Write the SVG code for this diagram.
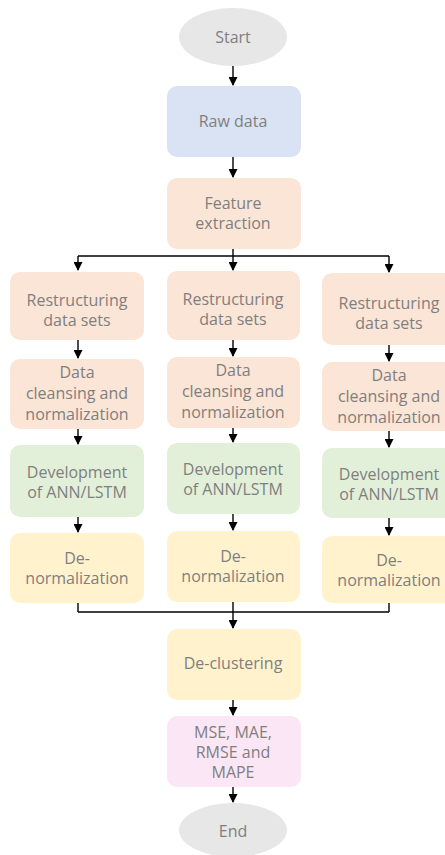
<svg xmlns="http://www.w3.org/2000/svg" width="445" height="855" viewBox="0 0 445 855">
  <defs>
    <marker id="arrow" markerWidth="9" markerHeight="9" refX="8" refY="4.5" orient="auto" markerUnits="userSpaceOnUse">
      <path d="M0,0 L9,4.5 L0,9 Z" fill="#000"/>
    </marker>
    <style>
      .box { stroke: none; }
      .term { fill: #e7e7e7; }
      .blue { fill: #dae3f3; }
      .peach { fill: #fbe5d6; }
      .green { fill: #e2f0d9; }
      .yellow { fill: #fff2cc; }
      .pink { fill: #fbe6f5; }
      text { font-family: "Open Sans", "Noto Sans", sans-serif; font-size: 16px; fill: #7f7f7f; text-anchor: middle; dominant-baseline: central; }
      .line { stroke: #000; stroke-width: 1.4; fill: none; }
      .arr { stroke: #000; stroke-width: 1.4; fill: none; marker-end: url(#arrow); }
    </style>
  </defs>

  <rect width="445" height="855" fill="#fff"/>

  <!-- main spine -->
  <g id="start">
    <ellipse class="box term" cx="233" cy="37" rx="54" ry="29"/>
    <text x="233" y="37">Start</text>
  </g>
  <g id="raw-data">
    <rect class="box blue" x="167" y="86" width="134" height="71" rx="10"/>
    <text x="233" y="121">Raw data</text>
  </g>
  <g id="feature-extraction">
    <rect class="box peach" x="167" y="178" width="134" height="71" rx="10"/>
    <text x="233" y="203">Feature</text>
    <text x="233" y="223">extraction</text>
  </g>

  <!-- left column -->
  <g id="restructure-1">
    <rect class="box peach" x="10" y="272" width="134" height="68" rx="10"/>
    <text x="77" y="300">Restructuring</text>
    <text x="77" y="320">data sets</text>
  </g>
  <g id="cleansing-1">
    <rect class="box peach" x="10" y="359" width="134" height="70" rx="10"/>
    <text x="77" y="372">Data</text>
    <text x="77" y="393">cleansing and</text>
    <text x="77" y="414">normalization</text>
  </g>
  <g id="model-1">
    <rect class="box green" x="10" y="445" width="134" height="72" rx="10"/>
    <text x="77" y="472">Development</text>
    <text x="77" y="492">of ANN/LSTM</text>
  </g>
  <g id="denorm-1">
    <rect class="box yellow" x="10" y="533" width="134" height="70" rx="10"/>
    <text x="77" y="558">De-</text>
    <text x="77" y="578">normalization</text>
  </g>

  <!-- middle column -->
  <g id="restructure-2">
    <rect class="box peach" x="167" y="271" width="133" height="69" rx="10"/>
    <text x="233" y="299">Restructuring</text>
    <text x="233" y="319">data sets</text>
  </g>
  <g id="cleansing-2">
    <rect class="box peach" x="167" y="357" width="133" height="71" rx="10"/>
    <text x="233" y="370">Data</text>
    <text x="233" y="391">cleansing and</text>
    <text x="233" y="412">normalization</text>
  </g>
  <g id="model-2">
    <rect class="box green" x="167" y="443" width="133" height="71" rx="10"/>
    <text x="233" y="469">Development</text>
    <text x="233" y="489">of ANN/LSTM</text>
  </g>
  <g id="denorm-2">
    <rect class="box yellow" x="167" y="531" width="133" height="71" rx="10"/>
    <text x="233" y="556">De-</text>
    <text x="233" y="576">normalization</text>
  </g>

  <!-- right column -->
  <g id="restructure-3">
    <rect class="box peach" x="322" y="273" width="134" height="72" rx="10"/>
    <text x="389" y="303">Restructuring</text>
    <text x="389" y="323">data sets</text>
  </g>
  <g id="cleansing-3">
    <rect class="box peach" x="322" y="362" width="134" height="69" rx="10"/>
    <text x="389" y="375">Data</text>
    <text x="389" y="396">cleansing and</text>
    <text x="389" y="417">normalization</text>
  </g>
  <g id="model-3">
    <rect class="box green" x="322" y="448" width="134" height="70" rx="10"/>
    <text x="389" y="474">Development</text>
    <text x="389" y="494">of ANN/LSTM</text>
  </g>
  <g id="denorm-3">
    <rect class="box yellow" x="322" y="536" width="134" height="67" rx="10"/>
    <text x="389" y="560">De-</text>
    <text x="389" y="580">normalization</text>
  </g>

  <!-- merge and evaluation -->
  <g id="declustering">
    <rect class="box yellow" x="167" y="629" width="134" height="71" rx="10"/>
    <text x="233" y="663">De-clustering</text>
  </g>
  <g id="metrics">
    <rect class="box pink" x="167" y="716" width="134" height="71" rx="10"/>
    <text x="233" y="732">MSE, MAE,</text>
    <text x="233" y="752">RMSE and</text>
    <text x="233" y="772">MAPE</text>
  </g>
  <g id="end">
    <ellipse class="box term" cx="233" cy="830" rx="54" ry="27"/>
    <text x="233" y="831">End</text>
  </g>

  <g id="connectors">
    <line class="arr" x1="233" y1="66" x2="233" y2="85"/>
    <line class="arr" x1="233" y1="157" x2="233" y2="177"/>
    <!-- split into three branches -->
    <line class="line" x1="233" y1="249" x2="233" y2="256"/>
    <line class="line" x1="78" y1="256" x2="389" y2="256"/>
    <line class="arr" x1="78" y1="256" x2="78" y2="270"/>
    <line class="arr" x1="233" y1="256" x2="233" y2="270"/>
    <line class="arr" x1="389" y1="256" x2="389" y2="272"/>
    <!-- left branch -->
    <line class="arr" x1="78" y1="340" x2="78" y2="358"/>
    <line class="arr" x1="78" y1="429" x2="78" y2="444"/>
    <line class="arr" x1="78" y1="517" x2="78" y2="532"/>
    <!-- middle branch -->
    <line class="arr" x1="233" y1="340" x2="233" y2="356"/>
    <line class="arr" x1="233" y1="428" x2="233" y2="442"/>
    <line class="arr" x1="233" y1="514" x2="233" y2="530"/>
    <!-- right branch -->
    <line class="arr" x1="389" y1="345" x2="389" y2="361"/>
    <line class="arr" x1="389" y1="431" x2="389" y2="447"/>
    <line class="arr" x1="389" y1="518" x2="389" y2="535"/>
    <!-- merge -->
    <line class="line" x1="78" y1="603" x2="78" y2="612"/>
    <line class="line" x1="389" y1="603" x2="389" y2="612"/>
    <line class="line" x1="78" y1="612" x2="389" y2="612"/>
    <line class="arr" x1="233" y1="602" x2="233" y2="628"/>
    <line class="arr" x1="233" y1="700" x2="233" y2="715"/>
    <line class="arr" x1="233" y1="787" x2="233" y2="802"/>
  </g>
</svg>
